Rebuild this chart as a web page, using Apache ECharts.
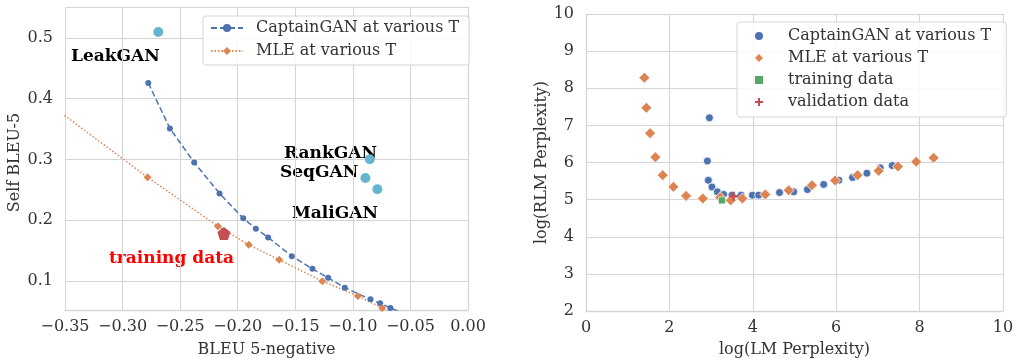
<!DOCTYPE html>
<html>
<head>
<meta charset="utf-8">
<script src="https://cdn.jsdelivr.net/npm/echarts@6/dist/echarts.min.js"></script>
<style>
  html, body { margin: 0; padding: 0; background: #fff; }
  #chart { width: 1014px; height: 358px; }
</style>
</head>
<body>
<div id="chart"></div>
<script>
// left panel: BLEU 5-negative vs Self BLEU-5
const ganBleu = [-0.2777, -0.2589, -0.2378, -0.2158, -0.1952, -0.1843, -0.1736, -0.153, -0.1351, -0.1215, -0.107, -0.0847, -0.0763, -0.0674, -0.058]
const ganSelf = [0.426, 0.351, 0.295, 0.244, 0.203, 0.186, 0.1715, 0.1407, 0.1198, 0.105, 0.0888, 0.0695, 0.063, 0.0554, 0.048]
const mleBleu = [-0.37, -0.2783, -0.2172, -0.1904, -0.164, -0.1265, -0.0957, -0.0746, -0.064]
const mleSelf = [0.4, 0.2706, 0.19, 0.1594, 0.1347, 0.0995, 0.0752, 0.0554, 0.0454]
const baseNames = ['LeakGAN', 'RankGAN', 'SeqGAN', 'MaliGAN']
const baseBleu = [-0.269, -0.0853, -0.0891, -0.0787]
const baseSelf = [0.5099, 0.3003, 0.2695, 0.2508]
const trainBleu = [-0.212]
const trainSelf = [0.178]

// right panel: log(LM Perplexity) vs log(RLM Perplexity)
const ganLm = [2.96, 2.91, 2.935, 3.02, 3.15, 3.30, 3.50, 3.72, 3.99, 4.14, 4.64, 4.98, 5.31, 5.70, 6.064, 6.392, 6.736, 7.056, 7.344]
const ganRlm = [7.204, 6.04, 5.52, 5.34, 5.21, 5.14, 5.12, 5.12, 5.12, 5.12, 5.19, 5.21, 5.27, 5.41, 5.524, 5.596, 5.712, 5.856, 5.919]
const mleLm = [1.40, 1.448, 1.536, 1.664, 1.84, 2.096, 2.40, 2.80, 3.22, 3.47, 3.75, 4.30, 4.86, 5.42, 5.976, 6.512, 7.016, 7.48, 7.92, 8.336]
const mleRlm = [8.283, 7.474, 6.791, 6.144, 5.658, 5.344, 5.101, 5.03, 5.06, 4.98, 5.03, 5.14, 5.25, 5.39, 5.515, 5.658, 5.775, 5.892, 6.018, 6.126]
const trainLm = [3.26]
const trainRlm = [4.98]
const validLm = [3.54]
const validRlm = [5.09]

const zip = (xs, ys) => xs.map((x, i) => [x, ys[i]])

const FONT = 'DejaVu Serif'
const TEXT = '#333'
const GRID = '#d5d5d5'
const BLUE = '#4C72B0', ORANGE = '#DD8452', GREEN = '#55A868', RED = '#C44E52', CYAN = '#64B5CD'

const pentagon = 'path://M0,-10 L9.51,-3.09 L5.88,8.09 L-5.88,8.09 L-9.51,-3.09 Z'
const plus = 'path://M-1.3,-5 H1.3 V-1.3 H5 V1.3 H1.3 V5 H-1.3 V1.3 H-5 V-1.3 H-1.3 Z'

const axisCommon = {
  type: 'value',
  axisLine: { show: true, lineStyle: { color: GRID, width: 1.3 } },
  axisTick: { show: false },
  splitLine: { show: true, lineStyle: { color: GRID, width: 1 } },
  axisLabel: { color: TEXT, fontFamily: FONT, fontSize: 16 },
  nameLocation: 'middle',
  nameTextStyle: { color: TEXT, fontFamily: FONT, fontSize: 16 }
}

const chart = echarts.init(document.getElementById('chart'))

chart.setOption({
  animation: false,
  backgroundColor: '#fff',
  grid: [
    { left: 65, top: 7, width: 403, height: 303, outerBoundsMode: 'none' },
    { left: 586, top: 14, width: 417, height: 297, outerBoundsMode: 'none' }
  ],
  xAxis: [
    Object.assign({}, axisCommon, {
      gridIndex: 0, min: -0.35, max: 0, interval: 0.05, name: 'BLEU 5-negative', nameGap: 32,
      axisLabel: Object.assign({}, axisCommon.axisLabel, { margin: 9, formatter: v => (v < 0 ? '\u2212' : '') + Math.abs(v).toFixed(2) })
    }),
    Object.assign({}, axisCommon, {
      gridIndex: 1, min: 0, max: 10, interval: 2, name: 'log(LM Perplexity)', nameGap: 31,
      axisLabel: Object.assign({}, axisCommon.axisLabel, { margin: 9 })
    })
  ],
  yAxis: [
    Object.assign({}, axisCommon, {
      gridIndex: 0, min: 0.052, max: 0.551, splitNumber: 5, name: 'Self BLEU-5', nameGap: 42,
      nameTextStyle: Object.assign({}, axisCommon.nameTextStyle, { padding: [0, 8, 0, 0] }),
      axisLabel: Object.assign({}, axisCommon.axisLabel, { margin: 12, showMinLabel: false, showMaxLabel: false, formatter: v => v.toFixed(1) })
    }),
    Object.assign({}, axisCommon, {
      gridIndex: 1, min: 2, max: 10, interval: 1, name: 'log(RLM Perplexity)', nameGap: 36,
      axisLabel: Object.assign({}, axisCommon.axisLabel, { margin: 12 })
    })
  ],
  legend: [
    {
      data: ['CaptainGAN at various T', 'MLE at various T'],
      left: 203, top: 16, width: 259, orient: 'vertical',
      padding: [4, 10, 6, 7], itemGap: 7, itemWidth: 32, itemHeight: 10,
      backgroundColor: 'rgba(255,255,255,0.85)', borderColor: '#d5d5d5', borderWidth: 1, borderRadius: 3,
      textStyle: { color: TEXT, fontFamily: FONT, fontSize: 16, padding: [0, 0, 0, 8] }
    },
    {
      data: ['CaptainGAN at various T ', 'MLE at various T ', 'training data', 'validation data'],
      left: 737, top: 22, width: 258, orient: 'vertical',
      padding: [6, 10, 7, 18], itemGap: 6, itemWidth: 8, itemHeight: 8,
      itemStyle: { borderWidth: 0 },
      backgroundColor: 'rgba(255,255,255,0.85)', borderColor: '#d5d5d5', borderWidth: 1, borderRadius: 3,
      textStyle: { color: TEXT, fontFamily: FONT, fontSize: 16, padding: [0, 0, 0, 20] }
    }
  ],
  series: [
    {
      name: 'baselines', type: 'scatter', xAxisIndex: 0, yAxisIndex: 0,
      symbol: 'circle', symbolSize: 10, itemStyle: { color: CYAN, opacity: 1 },
      data: zip(baseBleu, baseSelf)
    },
    {
      name: 'CaptainGAN at various T', type: 'line', xAxisIndex: 0, yAxisIndex: 0,
      symbol: 'circle', symbolSize: 6, showAllSymbol: true, clip: true,
      lineStyle: { color: BLUE, width: 1.5, type: [6, 3] }, itemStyle: { color: BLUE },
      data: zip(ganBleu, ganSelf)
    },
    {
      name: 'MLE at various T', type: 'line', xAxisIndex: 0, yAxisIndex: 0,
      symbol: 'diamond', symbolSize: 8, showAllSymbol: true, clip: true,
      lineStyle: { color: ORANGE, width: 1.5, type: [1.5, 2] }, itemStyle: { color: ORANGE },
      data: zip(mleBleu, mleSelf)
    },
    {
      name: 'training point', type: 'scatter', xAxisIndex: 0, yAxisIndex: 0, z: 5,
      symbol: pentagon, symbolSize: 13, itemStyle: { color: RED, opacity: 1 },
      data: zip(trainBleu, trainSelf)
    },
    {
      name: 'CaptainGAN at various T ', type: 'scatter', xAxisIndex: 1, yAxisIndex: 1,
      symbol: 'circle', symbolSize: 8, itemStyle: { color: BLUE, opacity: 1, borderColor: '#fff', borderWidth: 0.8 },
      data: zip(ganLm, ganRlm)
    },
    {
      name: 'MLE at various T ', type: 'scatter', xAxisIndex: 1, yAxisIndex: 1,
      symbol: 'diamond', symbolSize: 11, itemStyle: { color: ORANGE, opacity: 1, borderColor: '#fff', borderWidth: 0.8 },
      data: zip(mleLm, mleRlm)
    },
    {
      name: 'training data', type: 'scatter', xAxisIndex: 1, yAxisIndex: 1,
      symbol: 'rect', symbolSize: 7, itemStyle: { color: GREEN, opacity: 1, borderColor: '#fff', borderWidth: 0.6 },
      data: zip(trainLm, trainRlm)
    },
    {
      name: 'validation data', type: 'scatter', xAxisIndex: 1, yAxisIndex: 1,
      symbol: plus, symbolSize: 9, itemStyle: { color: RED, opacity: 1 },
      data: zip(validLm, validRlm)
    }
  ],
  // model names written next to their points
  graphic: [
    { type: 'text', left: 71, top: 48, style: { text: 'LeakGAN', font: 'bold 17px "DejaVu Serif"', fill: '#000' } },
    { type: 'text', left: 284, top: 145, style: { text: 'RankGAN', font: 'bold 17px "DejaVu Serif"', fill: '#000' } },
    { type: 'text', left: 280, top: 164, style: { text: 'SeqGAN', font: 'bold 17px "DejaVu Serif"', fill: '#000' } },
    { type: 'text', left: 292, top: 205, style: { text: 'MaliGAN', font: 'bold 17px "DejaVu Serif"', fill: '#000' } },
    { type: 'text', left: 109, top: 250, style: { text: 'training data', font: 'bold 17px "DejaVu Serif"', fill: '#ff0000' } }
  ]
})
</script>
</body>
</html>
